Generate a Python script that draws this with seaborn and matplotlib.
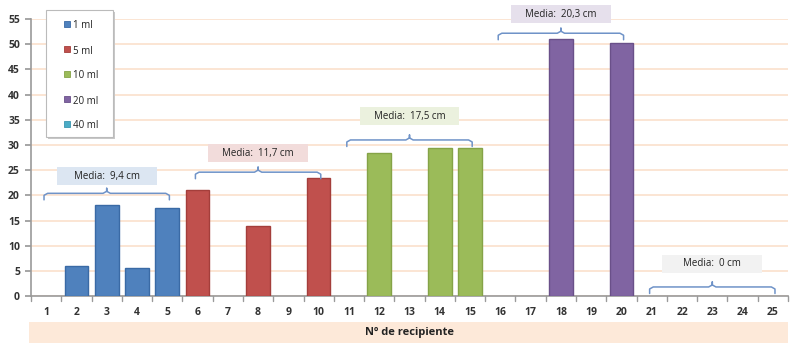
import matplotlib
matplotlib.use('Agg')
import matplotlib.pyplot as plt
import matplotlib.patches as mpatches
import seaborn as sns
import pandas as pd

# Datos
recipiente = list(range(1, 26))
altura = [0, 6, 18, 5.6, 17.5,
          21, 0, 14, 0, 23.5,
          0, 28.5, 0, 29.5, 29.5,
          0, 0, 51, 0, 50.2,
          0, 0, 0, 0, 0]
volumenes = ['1 ml', '5 ml', '10 ml', '20 ml', '40 ml']
volumen = [v for v in volumenes for _ in range(5)]
medias = ['9,4', '11,7', '17,5', '20,3', '0']

# Estilo
colores = ['#4F81BD', '#C0504D', '#9BBB59', '#8064A2', '#4BACC6']
bordes = ['#3A6AA5', '#A43E3B', '#85A347', '#6A5089', '#3A96B0']
cajas = ['#DCE6F2', '#F2DCDB', '#EBF1DE', '#E6E0EC', '#F2F2F2']
nivel_llave = [20.4, 24.6, 31.0, 52.2, 1.8]
nivel_caja = [22.0, 26.6, 33.9, 54.2, 4.6]

sns.set_theme(style='white')
plt.rcParams['font.family'] = ['Open Sans', 'DejaVu Sans']

df = pd.DataFrame({'Recipiente': [str(r) for r in recipiente],
                   'Altura': altura, 'Volumen': volumen})
df_bar = df[df['Altura'] > 0]

fig = plt.figure(figsize=(8, 3.61), dpi=100)
ax = fig.add_axes([0.03875, 0.18, 0.94625, 0.767])

sns.barplot(data=df_bar, x='Recipiente', y='Altura', hue='Volumen',
            order=[str(r) for r in recipiente], hue_order=volumenes,
            palette=dict(zip(volumenes, colores)), dodge=False, width=0.78,
            saturation=1, legend=False, ax=ax, zorder=3)
for patch in ax.patches:
    fc = matplotlib.colors.to_hex(patch.get_facecolor())
    for c, b in zip(colores, bordes):
        if fc == c.lower():
            patch.set_edgecolor(b)
    patch.set_linewidth(1)

ax.set_xlim(-0.5, 24.5)
ax.set_ylim(0, 55)
ax.set_yticks(range(0, 56, 5))
ax.yaxis.grid(True, color='#FBE0CC', linewidth=1.2, zorder=0)
ax.set_axisbelow(True)
for s in ['top', 'right']:
    ax.spines[s].set_visible(False)
for s in ['left', 'bottom']:
    ax.spines[s].set_color('#9A9A9A')
    ax.spines[s].set_linewidth(1.2)
ax.set_xlabel('')
ax.set_ylabel('')
ax.tick_params(axis='y', length=4, color='#9A9A9A', labelsize=7.5, pad=4,
               labelcolor='#333333', left=True)
ax.tick_params(axis='x', length=0, labelsize=7.5, pad=8, labelcolor='#333333')
for lab in ax.get_xticklabels() + ax.get_yticklabels():
    lab.set_fontweight('bold')
# marcas entre categorías
for i in range(26):
    ax.plot([i - 0.5, i - 0.5], [0, -0.9], color='#9A9A9A', lw=1,
            clip_on=False, zorder=4)

# llaves y cajas de media
for g in range(5):
    x0 = g * 5 - 0.07
    x1 = g * 5 + 4.07
    xm = (x0 + x1) / 2
    y = nivel_llave[g]
    xs = [x0, x0, x0 + 0.12, xm - 0.12, xm, xm, xm, xm + 0.12, x1 - 0.12, x1, x1]
    ys = [y - 1.3, y - 0.4, y, y, y + 0.4, y + 1.0, y + 0.4, y, y, y - 0.4, y - 1.3]
    ax.plot(xs, ys, color='#6F93C8', lw=1.1, zorder=5, clip_on=False)
    rect = mpatches.Rectangle((xm - 1.65, nivel_caja[g]), 3.3, 3.6,
                              facecolor=cajas[g], edgecolor='none',
                              zorder=5, clip_on=False)
    ax.add_patch(rect)
    ax.text(xm, nivel_caja[g] + 1.8, 'Media:  ' + medias[g] + ' cm',
            ha='center', va='center', fontsize=7, color='#222222',
            zorder=6, clip_on=False)

# leyenda (caja con sombra)
W, H = 800, 361
fig.patches.append(mpatches.Rectangle((48 / W, 1 - 139 / H), 67 / W, 127 / H,
                                      transform=fig.transFigure,
                                      facecolor='#C8C8C8', edgecolor='none', zorder=8))
fig.patches.append(mpatches.Rectangle((46 / W, 1 - 137 / H), 67 / W, 127 / H,
                                      transform=fig.transFigure,
                                      facecolor='white', edgecolor='#BBBBBB',
                                      linewidth=0.8, zorder=9))
for k, (c, b, v) in enumerate(zip(colores, bordes, volumenes)):
    yk = 24 + 25 * k
    fig.patches.append(mpatches.Rectangle((64 / W, 1 - (yk + 3) / H), 6 / W, 6 / H,
                                          transform=fig.transFigure,
                                          facecolor=c, edgecolor=b,
                                          linewidth=0.6, zorder=10))
    fig.text(73 / W, 1 - (yk + 0.5) / H, v, ha='left', va='center_baseline',
             fontsize=7, color='#222222', zorder=11)

# título del eje x en franja
fig.patches.append(mpatches.Rectangle((29 / W, 1 - 343 / H), 759 / W, 21 / H,
                                      transform=fig.transFigure,
                                      facecolor='#FDE9D9', edgecolor='none'))
fig.text((31 + 788) / 2 / W, 1 - 333 / H, 'Nº de recipiente',
         ha='center', va='center', fontsize=8, fontweight='bold', color='#222222')

fig.savefig('out.png', dpi=100)
